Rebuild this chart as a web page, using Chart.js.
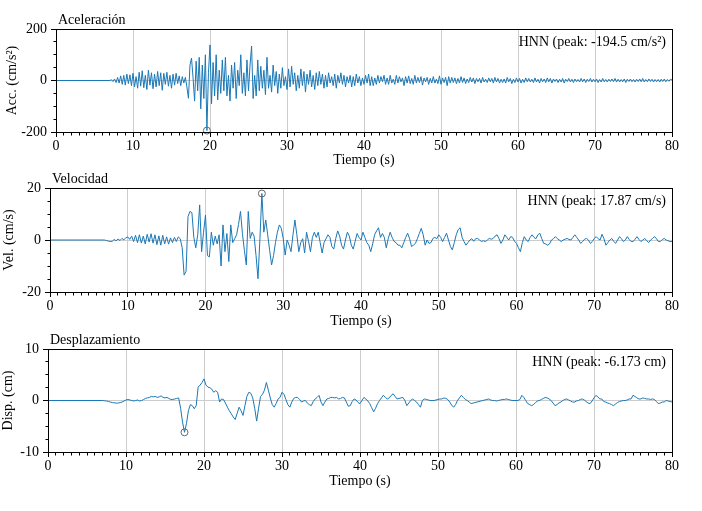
<!DOCTYPE html>
<html>
<head>
<meta charset="utf-8">
<script src="https://cdn.jsdelivr.net/npm/chart.js@4.4.1/dist/chart.umd.min.js"></script>
<style>
  body { margin: 0; background: #fff; }
  canvas { position: absolute; left: 0; }
</style>
</head>
<body>
<canvas id="accChart" width="702" height="170" style="top:0px"></canvas>
<canvas id="velChart" width="702" height="160" style="top:170px"></canvas>
<canvas id="dispChart" width="702" height="181" style="top:330px"></canvas>
<script>
// registro HNN: 0-7 s en reposo, luego muestras
const recordStart = 0;

const accStart = 7, accStep = 0.2;
const accValues = [
  0, 3, -4, 6, -8,
  12, -10, 18, -15, 20,
  -18, 25, -12, 22, -20,
  28, -25, 15, -30, 32,
  -22, 38, -28, 20, -35,
  40, -18, 30, -32, 25,
  -25, 35, -20, 30, -38,
  28, -15, 32, -22, 20,
  -30, 25, -18, 28, -12,
  18, -20, 15, -10, 12,
  -25, -69, 60, 87, 10,
  -80, 75, -40, 90, -110,
  60, -70, 100, -194.5, 30,
  138, -90, 70, -60, 100,
  -75, 40, -50, 80, -40,
  90, -60, 20, -80, 60,
  -30, 70, -70, 40, -20,
  100, -50, 30, -60, 80,
  -40, 60, 134, -70, 20,
  -60, 80, -40, 55, -30,
  40, -55, 90, -30, 20,
  -45, 60, -20, 35, -50,
  25, -30, 50, -20, 15,
  -35, 45, -25, 55, -15,
  30, -40, 20, -30, 45,
  -20, 35, -45, 25, -15,
  40, -25, 20, -35, 30,
  -20, 35, -15, 25, -30,
  20, -25, 30, -10, 15,
  -20, 25, -30, 20, -10,
  30, -15, 20, -25, 15,
  -10, 20, -25, 15, -20,
  25, -10, 15, -20, 10,
  -15, 20, -10, 25, -20,
  15, -20, 10, -15, 20,
  -10, 15, -5, 20, -15,
  10, -15, 20, -10, 5,
  -15, 20, -10, 15, -5,
  10, -20, 15, -10, 18,
  -12, 8, -15, 20, -10,
  12, -8, 15, -18, 10,
  -5, 12, -15, 8, -10,
  15, -10, 5, -12, 18,
  -15, 10, -8, 12, -20,
  15, -10, 12, -8, 10,
  -12, 8, -10, 15, -8,
  10, -12, 6, -8, 12,
  -6, 10, -12, 8, -5,
  8, -10, 12, -6, 5,
  -8, 10, -5, 8, -10,
  12, -6, 8, -10, 5,
  -8, 6, -10, 12, -5,
  8, -12, 5, -8, 10,
  -6, 8, -10, 5, -8,
  10, -5, 8, -6, 5,
  -8, 10, -6, 5, -10,
  8, -5, 6, -8, 10,
  -5, 8, -10, 6, -4,
  6, -8, 5, -6, 8,
  -10, 5, -4, 8, -6,
  5, -8, 6, -5, 4,
  -6, 8, -5, 6, -8,
  5, -4, 8, -6, 5,
  -5, 6, -8, 4, -6,
  8, -5, 4, -6, 5,
  -4, 6, -5, 8, -6,
  5, -6, 4, -5, 6,
  -8, 5, -4, 6, -5,
  4, -6, 5, -4, 6,
  -5, 8, -6, 4, -5,
  6, -4, 5, -6, 4,
  -5, 4, -6, 5, -4,
  6, -5, 4, -3, 5,
  2
];

const velStart = 7, velStep = 0.25;
const velValues = [
  0, -0.2, -0.4, -0.6,
  -0.5, 0.2, -0.3, 0.4,
  -0.2, 0.6, 0.1, 0.8,
  1.2, 0.2, 1.5, -0.6,
  1.8, -1.0, 2.0, -1.2,
  1.5, -1.5, 2.2, -0.8,
  2.4, -1.2, 2.0, -1.8,
  1.6, -2.0, 1.8, -1.5,
  1.2, -1.6, 0.8, -1.0,
  1.0, -0.6, 1.2, 0.5,
  -3.0, -13.5, -12.0, 9.0,
  11.0, 10.5, 1.0, -3.0,
  2.0, 13.5, -4.5, 3.0,
  9.6, -6.0, -6.5, 3.0,
  -2.0, 1.5, -1.5, 2.0,
  -10.0, 5.8, -4.5, 2.5,
  -8.3, 5.8, -1.0, 0.5,
  2.0, 6.0, 11.0, 2.5,
  -4.0, -9.6, 11.0, 0.6,
  3.0, 1.5, -6.0, -14.9,
  0.5, 17.87, 3.0, 7.7,
  2.0, -4.0, -9.6, -6.0,
  -1.0, 3.0, 5.8, 4.5,
  0.5, -5.8, 0.0, -2.0,
  -4.5, 2.0, 7.7, 2.0,
  -4.5, -1.0, 0.5, -5.0,
  3.0, -0.5, -4.5, 1.0,
  3.0, 1.0, 3.0, -1.0,
  -5.0, -1.0, 0.5, 2.0,
  1.0, -2.5, -3.5, 0.5,
  3.5, 1.5, -2.0, -3.5,
  0.0, 3.0, 1.5, -2.0,
  -3.5, -0.5, 2.5, 1.0,
  0.0, 3.0, 1.0, -1.0,
  -2.0, -4.5, -1.5, 2.0,
  3.5, 4.7, 1.0, 2.5,
  1.0, -3.0, 0.5, 3.0,
  1.0, -0.5, -1.0, -2.0,
  -2.0, -3.0, -1.0, 1.0,
  2.6, 0.5, -2.5, -2.0,
  -1.3, 0.5, 2.5, 4.5,
  2.0, -2.0, 0.0, -1.3,
  -1.0, 0.6, 1.0, 0.5,
  2.0, 1.0, -0.6, 1.0,
  2.6, 0.0, -2.5, -3.8,
  -1.0, 2.0, 4.0, 4.7,
  1.0, -0.6, -2.0, -1.0,
  0.0, 0.5, -0.5, 0.5,
  0.6, 0.0, -0.6, -0.3,
  -0.6, 0.0, 0.6, 0.3,
  0.6, 1.5, 2.0, 0.5,
  -1.3, 0.0, 2.0, 1.0,
  0.0, 1.3, 1.0, -0.5,
  -1.3, -3.0, -4.5, -1.0,
  1.3, 0.0, -0.6, 1.0,
  2.0, 1.0, 0.5, 2.0,
  2.6, 0.5, -1.3, -1.5,
  -2.0, -1.5, 0.0, 0.5,
  1.3, 0.5, 0.0, -0.6,
  0.0, 0.3, 0.6, 0.2,
  0.0, 1.0, 2.0, 1.0,
  0.0, -1.3, -0.6, 0.3,
  0.6, 0.0, -1.3, -0.6,
  0.6, 1.3, 0.5, 0.0,
  2.2, 0.5, -2.0, -1.0,
  0.0, 0.6, -0.5, -1.3,
  0.0, 1.3, 0.5, -0.6,
  0.0, 1.3, 0.2, -0.6,
  -0.6, 0.3, 1.3, 0.2,
  -0.6, 0.0, 0.6, -0.3,
  -1.0, 0.0, 0.6, 1.3,
  0.5, -0.6, -0.6, 0.2,
  0.6, 0.0, -0.3, -0.6,
  -0.6
];

const dispStart = 7, dispStep = 0.25;
const dispValues = [
  0, -0.05, -0.1, -0.2,
  -0.3, -0.4, -0.45, -0.5,
  -0.5, -0.4, -0.3, -0.1,
  0.1, 0.2, 0.1, 0.0,
  -0.1, 0.0, 0.1, -0.1,
  0.0, 0.2, 0.4, 0.5,
  0.6, 0.8, 0.7, 0.8,
  0.6, 0.7, 0.9, 0.6,
  0.5, 0.6, 0.4, 0.2,
  0.2, 0.3, 0.4, 0.5,
  -1.5, -4.2, -6.173, -4.5,
  -2.0, -0.8, -1.0, -1.6,
  -1.0, 2.6, 3.0, 3.5,
  4.2, 3.0, 2.6, 2.5,
  2.2, 1.6, 1.9, 1.6,
  -0.3, 0.3, 0.2, -0.5,
  -1.3, -2.0, -2.6, -3.2,
  -3.7, -2.5, -1.3, -2.0,
  -2.9, -1.0, 0.8, 1.6,
  1.4, 0.5, -1.5, -4.0,
  -1.5, 0.8, 1.2, 2.0,
  3.5, 2.0, 0.5, -0.8,
  -1.3, -0.6, 0.3, 0.6,
  1.6, 1.2, 0.2, -0.8,
  -1.3, -0.3, 0.4, 0.6,
  0.6, 0.2, -0.3, -0.1,
  0.0, -0.5, -0.8, -1.0,
  -0.2, 0.3, 0.6, 1.0,
  -0.3, -1.0, -0.3, 0.3,
  0.4, 0.6, 0.6, 0.5,
  0.6, 0.3, 0.4, 0.6,
  0.5, -0.3, -1.1, -1.0,
  -0.2, 0.3, 0.1, -0.4,
  -0.6, 0.0, 0.6, 0.3,
  -0.1, -0.6, -1.4, -2.2,
  -1.5, -0.6, 0.0, 0.5,
  1.0, 0.6, 0.3, 0.5,
  1.0, 1.3, 0.8, 0.3,
  0.4, 0.5, 0.6, 0.0,
  -1.0, -0.5, 0.0, 0.3,
  0.0, -0.3, -0.8, -1.3,
  0.0, 0.3, 0.2, 0.1,
  0.0, 0.0, 0.0, 0.1,
  0.2, 0.3, 0.3, 0.5,
  0.4, 0.2, -0.3, -0.9,
  -1.3, -0.8, 0.0, 0.5,
  1.0, 0.6, 0.2, 0.0,
  -0.3, -0.6, -0.5, -0.4,
  -0.3, -0.2, -0.1, 0.0,
  0.1, 0.2, 0.3, 0.1,
  0.0, 0.0, -0.1, 0.0,
  0.1, 0.2, 0.2, 0.3,
  0.2, 0.1, 0.0, 0.0,
  0.0, 0.0, 0.2, 1.0,
  0.6, 0.0, -0.6, -0.8,
  -1.0, -0.8, -0.4, -0.1,
  0.0, 0.2, 0.4, 0.6,
  0.5, 0.3, 0.0, -0.5,
  -1.0, -0.8, -0.5, -0.3,
  0.0, 0.2, 0.3, 0.1,
  -0.1, -0.3, -0.3, -0.1,
  0.0, 0.2, 0.3, 0.1,
  -0.2, -0.5, -0.6, -0.1,
  0.5, 1.0, 0.7, 0.3,
  0.3, -0.2, -0.3, -0.5,
  -0.6, -0.8, -1.0, -0.7,
  -0.4, -0.2, -0.1, 0.0,
  0.0, 0.1, 0.3, 0.3,
  1.0, 0.8, 0.5, 0.3,
  0.3, 0.5, 0.4, 0.3,
  0.3, 0.2, 0.3, 0.2,
  -0.2, -0.6, -0.5, -0.3,
  -0.3, 0.0, -0.1, -0.2,
  -0.3
];

// picos marcados con circulo
const accPeak = { t: 19.6, v: -194.5 };
const velPeak = { t: 27.25, v: 17.87 };
const dispPeak = { t: 17.5, v: -6.173 };

const FONT = '"Liberation Serif", "Times New Roman", serif';
const lineColor = '#1a78b6';
const gridColor = '#cccccc';

function toPoints(start, step, values) {
  const pts = [{ x: recordStart, y: 0 }];
  values.forEach((v, i) => pts.push({ x: start + i * step, y: v }));
  return pts;
}

// marco, ticks menores, titulo y etiqueta del pico
const decor = {
  id: 'decor',
  afterDraw(chart, args, opts) {
    const { ctx, chartArea: a, scales: { x, y } } = chart;
    const align = (p) => Math.round(p - 0.5) + 0.5;
    ctx.save();
    ctx.strokeStyle = '#000';
    ctx.lineWidth = 1;
    ctx.strokeRect(a.left + 0.5, a.top + 0.5, a.right - a.left, a.bottom - a.top);

    ctx.beginPath();
    for (let t = 1; t < 80; t++) {
      if (t % 10 === 0) continue;
      const px = align(x.getPixelForValue(t));
      ctx.moveTo(px, a.bottom + 0.5);
      ctx.lineTo(px, a.bottom + 3.5);
    }
    for (let v = y.min + opts.minorY; v < y.max; v += opts.minorY) {
      if (Math.abs(v) < 1e-9) continue;
      const py = align(y.getPixelForValue(v));
      ctx.moveTo(a.left + 0.5, py);
      ctx.lineTo(a.left - 2.5, py);
    }
    ctx.stroke();

    ctx.fillStyle = '#000';
    ctx.font = '14px ' + FONT;
    ctx.textBaseline = 'alphabetic';
    ctx.textAlign = 'left';
    ctx.fillText(opts.title, a.left + 2, a.top - 5);
    ctx.textAlign = 'right';
    ctx.fillText(opts.peakLabel, a.right - 6, a.top + 17);
    ctx.restore();
  }
};

function createPanel(id, cfg) {
  const ctx = document.getElementById(id).getContext('2d');
  return new Chart(ctx, {
    type: 'line',
    data: {
      datasets: [{
        data: cfg.points,
        borderColor: lineColor,
        borderWidth: 1,
        pointRadius: 0,
        tension: 0,
        fill: false
      }, {
        data: [{ x: cfg.peak.t, y: cfg.peak.v }],
        showLine: false,
        pointRadius: 3.5,
        pointBorderWidth: 1,
        pointBorderColor: '#666666',
        pointBackgroundColor: 'rgba(255,255,255,0.5)',
        clip: false
      }]
    },
    options: {
      responsive: false,
      animation: false,
      devicePixelRatio: 1,
      layout: {
        padding: { left: 0, top: cfg.padTop, right: 30, bottom: cfg.padBottom }
      },
      plugins: {
        legend: { display: false },
        tooltip: { enabled: false },
        decor: { title: cfg.title, peakLabel: cfg.peakLabel, minorY: cfg.minorY }
      },
      scales: {
        x: {
          type: 'linear',
          min: 0,
          max: 80,
          afterFit: (scale) => { scale.height = 38; },
          ticks: {
            stepSize: 10,
            color: '#000',
            padding: 1,
            maxRotation: 0,
            font: { family: FONT, size: 14 }
          },
          grid: {
            color: (c) => (c.tick && (c.tick.value === 0 || c.tick.value === 80)) ? 'rgba(0,0,0,0)' : gridColor,
            tickColor: '#000',
            tickLength: 5
          },
          border: { display: false },
          title: {
            display: true,
            text: 'Tiempo (s)',
            color: '#000',
            padding: { top: 0, bottom: cfg.xTitlePad },
            font: { family: FONT, size: 14 }
          }
        },
        y: {
          min: -cfg.yMax,
          max: cfg.yMax,
          afterFit: (scale) => { scale.width = cfg.yWidth; },
          ticks: {
            stepSize: cfg.yMax,
            color: '#000',
            padding: 4,
            font: { family: FONT, size: 14 }
          },
          grid: {
            color: (c) => (c.tick && c.tick.value === 0) ? gridColor : 'rgba(0,0,0,0)',
            tickColor: '#000',
            tickLength: 5
          },
          border: { display: false },
          title: {
            display: true,
            text: cfg.yTitle,
            color: '#000',
            padding: { top: cfg.yTitlePad, bottom: 0 },
            font: { family: FONT, size: 14 }
          }
        }
      }
    },
    plugins: [decor]
  });
}

createPanel('accChart', {
  points: toPoints(accStart, accStep, accValues),
  peak: accPeak,
  title: 'Aceleración',
  peakLabel: 'HNN (peak: -194.5 cm/s²)',
  yTitle: 'Acc. (cm/s²)',
  yMax: 200, minorY: 50,
  padTop: 29, padBottom: 0, yWidth: 56, yTitlePad: 4, xTitlePad: 1
});

createPanel('velChart', {
  points: toPoints(velStart, velStep, velValues),
  peak: velPeak,
  title: 'Velocidad',
  peakLabel: 'HNN (peak: 17.87 cm/s)',
  yTitle: 'Vel. (cm/s)',
  yMax: 20, minorY: 5,
  padTop: 18, padBottom: 0, yWidth: 50, yTitlePad: 1, xTitlePad: 0
});

createPanel('dispChart', {
  points: toPoints(dispStart, dispStep, dispValues),
  peak: dispPeak,
  title: 'Desplazamiento',
  peakLabel: 'HNN (peak: -6.173 cm)',
  yTitle: 'Disp. (cm)',
  yMax: 10, minorY: 2.5,
  padTop: 19, padBottom: 21, yWidth: 48, yTitlePad: 0, xTitlePad: 0
});
</script>
</body>
</html>
